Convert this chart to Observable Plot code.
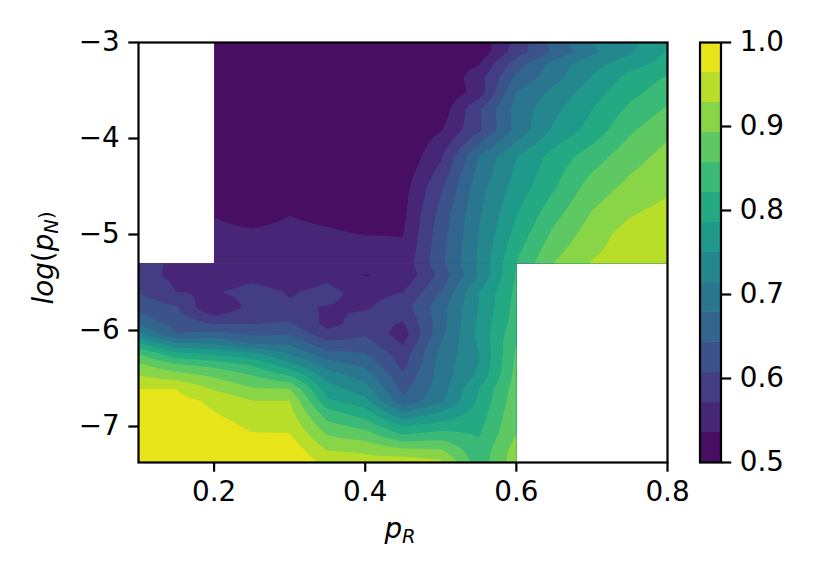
<!DOCTYPE html>
<html>
<head>
<meta charset="utf-8">
<script src="https://cdn.jsdelivr.net/npm/d3@7"></script>
<script src="https://cdn.jsdelivr.net/npm/@observablehq/plot@0.6"></script>
<style>
html,body{margin:0;padding:0;background:#fff}
#chart{position:relative;width:830px;height:581px}
#chart svg{position:absolute;left:0;top:0;background:transparent}
</style>
</head>
<body>
<div id="chart"></div>
<script>
const levels = [0.5,0.5357,0.5714,0.6071,0.6429,0.6786,0.7143,0.75,0.7857,0.8214,0.8571,0.8929,0.9286,0.9643,1.0];
const bandColors = d3.range(14).map(i => d3.interpolateViridis((i + 0.5) / 14));

// top-right block: pR 0.2 to 0.8, log(pN) -3 to -5.3
const upperPR = [0.2,0.25,0.3,0.35,0.4,0.45,0.5,0.55,0.6,0.65,0.7,0.75,0.8];
const upperLogPN = [-3,-3.1,-3.22,-3.36,-3.52,-3.69,-3.91,-4.19,-4.5,-4.82,-5.01,-5.3];
const upperValues = [
 [.52,.52,.52,.52,.52,.52,.52,.51,.582,.657,.715,.742,.779],
 [.52,.52,.52,.52,.52,.515,.51,.51,.59,.65,.707,.745,.79],
 [.52,.52,.52,.52,.52,.515,.51,.533,.625,.692,.736,.769,.80],
 [.52,.52,.52,.52,.52,.51,.505,.556,.649,.701,.752,.797,.824],
 [.52,.52,.52,.52,.52,.51,.505,.55,.68,.725,.77,.81,.8415],
 [.52,.52,.52,.52,.52,.505,.513,.602,.692,.74,.785,.828,.861],
 [.52,.52,.52,.52,.52,.51,.533,.60,.69,.757,.799,.851,.885],
 [.52,.52,.52,.52,.52,.505,.5665,.68,.749,.80,.84,.879,.905],
 [.51,.51,.51,.51,.51,.522,.599,.70,.764,.817,.873,.902,.92],
 [.536,.52,.537,.525,.51,.528,.622,.71,.785,.849,.898,.928,.945],
 [.55,.545,.55,.545,.536,.535,.628,.714,.799,.867,.912,.945,.955],
 [.55,.55,.555,.555,.55,.5456,.634,.72,.823,.894,.931,.945,.955]
];

// bottom-left block: pR 0.1 to 0.6, log(pN) -5.3 to -7.375
const lowerPR = [0.1,0.15,0.2,0.25,0.3,0.35,0.4,0.45,0.5,0.55,0.6];
const lowerLogPN = [-5.3,-5.427,-5.601,-5.757,-5.931,-6.035,-6.139,-6.243,-6.365,-6.469,-6.608,-6.729,-6.851,-6.99,-7.076,-7.25,-7.375];
const lowerValues = [
 [.585,.565,.55,.55,.555,.555,.55,.5456,.634,.72,.823],
 [.585,.563,.545,.56,.55,.565,.534,.543,.618,.718,.825],
 [.6071,.5714,.568,.585,.569,.58,.56,.5714,.6429,.75,.83],
 [.63,.61,.534,.585,.575,.57,.567,.591,.665,.75,.835],
 [.668,.63,.6071,.606,.613,.56,.588,.568,.664,.757,.84],
 [.726,.6429,.655,.637,.6387,.583,.6025,.553,.669,.759,.85],
 [.792,.7225,.7143,.6786,.675,.619,.622,.569,.68,.7535,.858],
 [.8571,.7976,.78,.762,.711,.656,.644,.587,.688,.748,.862],
 [.903,.866,.848,.8214,.766,.70,.672,.597,.694,.751,.866],
 [.9286,.909,.887,.859,.8214,.734,.697,.615,.693,.757,.87],
 [.9643,.9643,.925,.897,.8929,.766,.73,.632,.697,.7857,.875],
 [.975,.975,.958,.9286,.9286,.792,.761,.652,.705,.79,.88],
 [.98,.98,.965,.942,.9415,.833,.799,.7143,.7515,.80,.885],
 [.985,.985,.98,.957,.956,.869,.843,.782,.80,.81,.89],
 [.985,.985,.985,.966,.965,.889,.87,.8173,.833,.818,.8929],
 [.985,.985,.985,.98,.99,.9286,.9235,.903,.898,.83,.91],
 [.985,.985,.985,.985,.995,.955,.94,.953,.937,.835,.915]
];

const xTicks = [0.2,0.4,0.6,0.8];
const yTicks = [-3,-4,-5,-6,-7];
const barTicks = [0.5,0.6,0.7,0.8,0.9,1.0];

const table = (xs, ys, vals) => ys.flatMap((y, j) => xs.map((x, i) => ({x, y, v: vals[j][i]})));
const bands = bandColors.map((c, i) => ({lo: levels[i], hi: levels[i + 1]}));
const colorScale = {type: "threshold", domain: levels.slice(1, 14), range: bandColors};
const font = {fontFamily: "'DejaVu Sans'", fontSize: "27.8px", fontVariant: "normal", color: "black", background: "transparent", overflow: "visible"};
const minus = d => String(d).replace("-", "\u2212");
const W = 2.2, T = 9.7;

// bilinear reading of a rectilinear grid of samples, handed to Plot's raster step
function gridInterpolate(index, width, height, X, Y, V) {
  const xs = [...new Set(Array.from(index, i => X[i]))].sort(d3.ascending);
  const ys = [...new Set(Array.from(index, i => Y[i]))].sort(d3.ascending);
  const grid = new Map();
  for (const i of index) grid.set(X[i] + "," + Y[i], V[i]);
  const out = new Float64Array(width * height);
  const locate = (arr, p) => {
    const k = Math.min(arr.length - 2, Math.max(0, d3.bisectRight(arr, p) - 1));
    const t = Math.min(1, Math.max(0, (p - arr[k]) / (arr[k + 1] - arr[k])));
    return [k, t];
  };
  for (let r = 0; r < height; ++r) {
    const [j, v] = locate(ys, r + 0.5);
    for (let c = 0; c < width; ++c) {
      const [i, u] = locate(xs, c + 0.5);
      const a = grid.get(xs[i] + "," + ys[j]), b = grid.get(xs[i + 1] + "," + ys[j]);
      const d = grid.get(xs[i] + "," + ys[j + 1]), e = grid.get(xs[i + 1] + "," + ys[j + 1]);
      out[r * width + c] = (1 - v) * ((1 - u) * a + u * b) + v * ((1 - u) * d + u * e);
    }
  }
  return out;
}

const main = Plot.plot({
  width: 830, height: 581,
  marginLeft: 138, marginRight: 163, marginTop: 42, marginBottom: 119,
  style: font,
  x: {domain: [0.1, 0.8]},
  y: {domain: [-7.375, -3]},
  color: colorScale,
  marks: [
    Plot.contour(table(upperPR, upperLogPN, upperValues), {
      x: "x", y: "y", fill: "v", interpolate: gridInterpolate, thresholds: levels, pixelSize: 1,
      x1: 0.2, x2: 0.8, y1: -5.3, y2: -3
    }),
    Plot.contour(table(lowerPR, lowerLogPN, lowerValues), {
      x: "x", y: "y", fill: "v", interpolate: gridInterpolate, thresholds: levels, pixelSize: 1,
      x1: 0.1, x2: 0.6, y1: -7.375, y2: -5.3
    }),
    Plot.frame({stroke: "black", strokeWidth: W}),
    Plot.axisX({ticks: xTicks, tickFormat: d => d.toFixed(1), label: null, tickSize: T, tickPadding: 9, strokeWidth: W, stroke: "black", fill: "black", marginBottom: 119}),
    Plot.axisY({ticks: yTicks, tickFormat: minus, label: null, tickSize: T, tickPadding: 9, strokeWidth: W, stroke: "black", fill: "black", marginLeft: 138})
  ]
});

const bar = Plot.plot({
  width: 830, height: 581,
  marginLeft: 699.5, marginRight: 109.5, marginTop: 42, marginBottom: 119,
  style: font,
  x: {domain: [0, 1], axis: null},
  y: {domain: [0.5, 1]},
  color: colorScale,
  marks: [
    Plot.rect(bands, {x1: 0, x2: 1, y1: "lo", y2: "hi", fill: "lo"}),
    Plot.frame({stroke: "black", strokeWidth: W}),
    Plot.axisY({anchor: "right", ticks: barTicks, tickFormat: d => d.toFixed(1), label: null, tickSize: T, tickPadding: 9, strokeWidth: W, stroke: "black", fill: "black", marginRight: 109.5})
  ]
});

function mathLabel(svg, x, y, rotate, parts) {
  const t = d3.select(svg).append("text")
    .attr("transform", `translate(${x},${y}) rotate(${rotate})`)
    .attr("text-anchor", "middle")
    .attr("font-family", "'DejaVu Sans'").attr("font-size", 27.8).attr("fill", "black");
  for (const [s, style, sub] of parts) {
    t.append("tspan").text(s).attr("font-style", style)
      .attr("font-size", sub ? 19.5 : 27.8)
      .attr("dy", sub === 1 ? 4.5 : sub === -1 ? -4.5 : 0);
  }
}
mathLabel(main, 400, 538, 0, [["p", "italic", 0], ["R", "italic", 1]]);
mathLabel(main, 53, 258, -90, [["log", "italic", 0], ["(", "normal", 0], ["p", "italic", 0], ["N", "italic", 1], [")", "normal", -1]]);

document.getElementById("chart").append(main, bar);
</script>
</body>
</html>
